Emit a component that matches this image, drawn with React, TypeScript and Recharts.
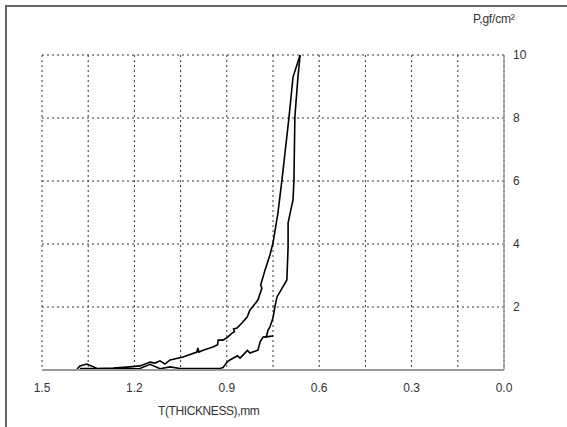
import { CartesianGrid, Line, LineChart, XAxis, YAxis } from 'recharts';

// branch that rises first (left / upper curve), from bottom to peak
const upperT = [
	1.386, 1.377, 1.354, 1.321, 1.269, 1.214, 1.182, 1.149, 1.133, 1.117, 1.101, 1.084, 1.042, 0.997, 0.994,
	0.991, 0.977, 0.945, 0.93, 0.928, 0.912, 0.896, 0.883, 0.875, 0.878, 0.867, 0.851, 0.834, 0.825, 0.799,
	0.786, 0.79, 0.776, 0.76, 0.75, 0.734, 0.721, 0.698, 0.685, 0.662,
];
const upperP = [
	0.03, 0.13, 0.19, 0.05, 0.06, 0.1, 0.13, 0.25, 0.22, 0.29, 0.19, 0.32, 0.41, 0.57, 0.7, 0.57, 0.63, 0.73,
	0.8, 0.95, 0.95, 1.05, 1.17, 1.22, 1.3, 1.33, 1.49, 1.68, 1.9, 2.22, 2.6, 2.7, 3.17, 3.65, 4.03, 4.98, 6.03,
	8.03, 9.3, 10,
];

// return branch (right / lower curve), from peak back to zero
const lowerT = [
	0.662, 0.669, 0.679, 0.682, 0.685, 0.701, 0.701, 0.705, 0.737, 0.744, 0.75, 0.76, 0.766, 0.772, 0.75,
	0.782, 0.792, 0.799, 0.825, 0.833, 0.857, 0.865, 0.89, 0.899, 0.912, 0.922, 0.987, 1.052, 1.084, 1.117,
	1.149, 1.182, 1.214, 1.269, 1.312, 1.344, 1.377,
];
const lowerP = [
	10, 9.3, 8.03, 6.03, 5.4, 4.67, 3.9, 2.86, 2.32, 2.0, 1.65, 1.37, 1.27, 1.05, 1.08, 1.05, 0.89, 0.63,
	0.54, 0.62, 0.38, 0.45, 0.32, 0.25, 0.08, 0.05, 0.05, 0.05, 0.1, 0.04, 0.18, 0.05, 0.04, 0.04, 0.03, 0.05, 0.05,
];

const xTicks = [0, 0.15, 0.3, 0.45, 0.6, 0.75, 0.9, 1.05, 1.2, 1.35, 1.5];
const yTicks = [0, 2, 4, 6, 8, 10];

const upper = upperT.map((t, i) => ({ t, p: upperP[i] }));
const lower = lowerT.map((t, i) => ({ t, p: lowerP[i] }));

const font = '"Liberation Sans Narrow", "Liberation Sans", Arial, sans-serif';

export default function App() {
	return (
		<div style={{ position: 'absolute', left: 0, top: 0, width: 567, height: 427, background: '#fff', overflow: 'hidden' }}>
			<div
				style={{
					position: 'absolute',
					left: 5,
					top: 5,
					right: -10,
					bottom: -10,
					borderTop: '2px solid #666',
					borderLeft: '2px solid #666',
				}}
			/>
			<LineChart width={567} height={427} margin={{ top: 55, right: 23, bottom: 27, left: 42 }}>
				<CartesianGrid stroke="#333" strokeDasharray="2 3" />
				<XAxis
					type="number"
					dataKey="t"
					reversed
					domain={[0, 1.5]}
					ticks={xTicks}
					interval={0}
					height={30}
					axisLine={{ stroke: '#999', strokeWidth: 2 }}
					tickLine={false}
					tickMargin={7}
					tick={{ fill: '#333', fontSize: 12, fontFamily: font }}
					tickFormatter={(v: number) => (Math.round(v / 0.15) % 2 === 0 ? v.toFixed(1) : '')}
				/>
				<YAxis
					type="number"
					dataKey="p"
					orientation="right"
					domain={[0, 10]}
					ticks={yTicks}
					width={40}
					axisLine={{ stroke: '#999', strokeWidth: 1.5 }}
					tickLine={false}
					tickMargin={3}
					tick={{ fill: '#333', fontSize: 12, fontFamily: font }}
					tickFormatter={(v: number) => (v === 0 ? '' : String(v))}
				/>
				<Line data={upper} dataKey="p" type="linear" stroke="#000" strokeWidth={1.6} dot={false} isAnimationActive={false} />
				<Line data={lower} dataKey="p" type="linear" stroke="#000" strokeWidth={1.6} dot={false} isAnimationActive={false} />
			</LineChart>
			<div style={{ position: 'absolute', left: 473, top: 12, fontSize: 12, color: '#333', fontFamily: font, letterSpacing: -0.2 }}>
				P,gf/cm²
			</div>
			<div style={{ position: 'absolute', left: 158, top: 404, fontSize: 12, color: '#333', fontFamily: font, letterSpacing: -0.4 }}>
				T(THICKNESS),mm
			</div>
		</div>
	);
}
